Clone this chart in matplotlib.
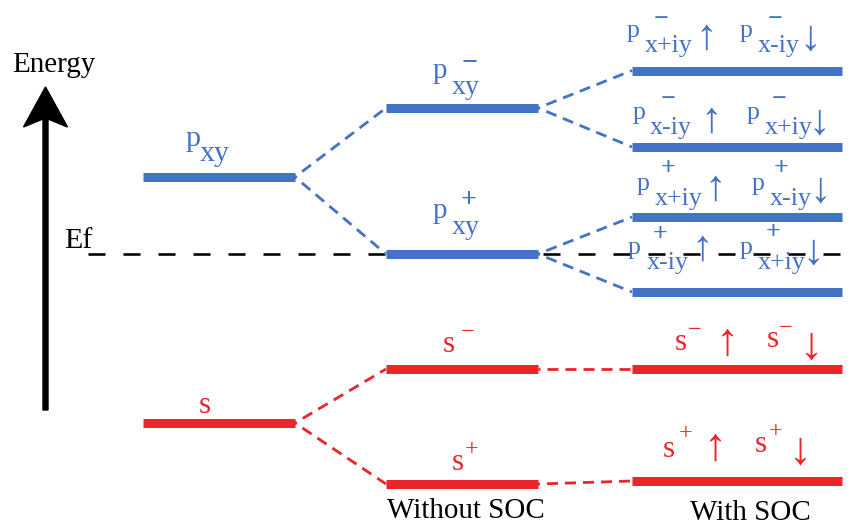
import matplotlib
matplotlib.use("Agg")
import matplotlib.pyplot as plt

plt.rcParams['lines.scale_dashes'] = False
FAM = ['Liberation Serif', 'DejaVu Serif']
BLUE = '#4472C4'
RED = '#E8262B'
H = 527  # figure height in px; energy axis uses px-like units (upward)

# ---------------- data ----------------
# energies (arbitrary units, increasing upward)
iso_states = ['p_xy', 's']
iso_energy = [350, 104]
nosoc_states = ['p_xy-', 'p_xy+', 's-', 's+']
nosoc_energy = [419, 273, 158, 43]
soc_states = ['p_x+iy- up / p_x-iy- dn', 'p_x-iy- up / p_x+iy- dn',
              'p_x+iy+ up / p_x-iy+ dn', 'p_x-iy+ up / p_x+iy+ dn',
              's- up / s- dn', 's+ up / s+ dn']
soc_energy = [456.5, 380, 310, 235, 158, 46]
fermi_energy = 273
iso_colors = [BLUE, RED]
nosoc_colors = [BLUE, BLUE, RED, RED]
soc_colors = [BLUE, BLUE, BLUE, BLUE, RED, RED]
# splitting: iso -> nosoc, nosoc -> soc
link_iso_nosoc = [(0, 0), (0, 1), (1, 2), (1, 3)]
link_nosoc_soc = [(0, 0), (0, 1), (1, 2), (1, 3), (2, 4), (3, 5)]
column_titles = ['Without SOC', 'With SOC']

# ---------------- layout ----------------
col_iso = (143, 295)
col_nosoc = (386, 538)
col_soc = (632, 842)
BAR_LW = 9 * 0.72

fig = plt.figure(figsize=(8.52, 5.27), dpi=100)
ax = fig.add_axes([0, 0, 1, 1])
ax.set_xlim(0, 852)
ax.set_ylim(0, H)
ax.axis('off')

# Fermi level
ax.plot([88, 852], [fermi_energy, fermi_energy], color='black', lw=2.6 * 0.72,
        linestyle=(0, (17 * 0.72, 18 * 0.72)), zorder=1)

# bars
for e, c in zip(iso_energy, iso_colors):
    ax.plot(col_iso, [e, e], color=c, lw=BAR_LW, solid_capstyle='butt', zorder=3)
for e, c in zip(nosoc_energy, nosoc_colors):
    ax.plot(col_nosoc, [e, e], color=c, lw=BAR_LW, solid_capstyle='butt', zorder=3)
for e, c in zip(soc_energy, soc_colors):
    ax.plot(col_soc, [e, e], color=c, lw=BAR_LW, solid_capstyle='butt', zorder=3)

# connectors
dash = (9 * 0.72, (11 * 0.72, 7 * 0.72))
for i, j in link_iso_nosoc:
    ax.plot([col_iso[1], col_nosoc[0]], [iso_energy[i], nosoc_energy[j]],
            color=iso_colors[i], lw=2.8 * 0.72, linestyle=dash, zorder=2)
for i, j in link_nosoc_soc:
    ax.plot([col_nosoc[1], col_soc[0]], [nosoc_energy[i], soc_energy[j]],
            color=nosoc_colors[i], lw=2.8 * 0.72, linestyle=dash, zorder=2)

# energy arrow
ax.arrow(45.5, H - 410, 0, 410 - 87, width=5, head_width=44, head_length=40,
         overhang=0.2, length_includes_head=True, color='black', zorder=4)


def T(x, ypix, s, px, color='black', ha='left', weight='normal'):
    ax.text(x, H - ypix, s, fontsize=px * 0.72, family=FAM, color=color,
            ha=ha, va='baseline', zorder=5, fontweight=weight)


def SIGN(xc, yc, s, px, color, weight='normal'):
    # place a sign so that its ink centre is near (xc, yc) in px
    T(xc, yc + 0.25 * px, s, px, color, ha='center', weight=weight)


def ARROW(xc, ybot, s, px, color):
    # glyph bottom sits slightly below the baseline
    T(xc, ybot - 0.07 * px, s, px, color, ha='center')


T(12, 72, 'Energy', 29)
T(64, 248, 'Ef', 30)
T(387, 518, column_titles[0], 29)
T(690, 520.5, column_titles[1], 29)

# column 1
T(185, 146, 'p', 30, BLUE)
T(200, 161, 'xy', 30, BLUE)
T(199, 413, 's', 31, RED)

# column 2
T(433, 78.5, 'p', 29, BLUE)
T(452, 94.5, 'xy', 28, BLUE)
SIGN(470, 62, '\u2212', 28, BLUE, 'bold')
T(433, 218, 'p', 29, BLUE)
T(452, 234.5, 'xy', 28, BLUE)
SIGN(469, 200, '+', 28, BLUE, 'bold')
T(443, 352, 's', 31, RED)
SIGN(467.5, 332, '\u2212', 24, RED)
T(452, 470, 's', 31, RED)
SIGN(471, 449.5, '+', 24, RED)

# column 3 (blue)
P = 26
rows = [
    (627, 36.6, 'x+iy', 645, '\u2212', 661.5, 20, 706, 740, 'x-iy', 758, 775, 20, 810, 51.6, 52, 53),
    (633, 118.6, 'x-iy', 650, '\u2212', 668.5, 100, 711, 747, 'x+iy', 765, 779, 100, 819, 133.6, 135, 137),
    (637, 189.6, 'x+iy', 655, '+', 668.5, 168.5, 715, 752, 'x-iy', 770, 781.5, 168, 820, 204.6, 203, 205),
    (628, 253.6, 'x-iy', 647, '+', 660, 235, 702, 740, 'x+iy', 758, 773.5, 233, 813, 268.6, 263, 267),
]
for (p1x, base, sub1, sub1x, sg, s1x, s1y, upx, p2x, sub2, sub2x, s2x, s2y, dnx,
     subb, aub, adb) in rows:
    T(p1x, base, 'p', P, BLUE)
    T(sub1x, subb, sub1, P, BLUE)
    SIGN(s1x, s1y, sg, P, BLUE, 'bold')
    ARROW(upx, aub, '\u2191', 43, BLUE)
    T(p2x, base, 'p', P, BLUE)
    T(sub2x, subb, sub2, P, BLUE)
    SIGN(s2x, s2y, sg, P, BLUE, 'bold')
    ARROW(dnx, adb, '\u2193', 43, BLUE)

# column 3 (red)
T(675, 350, 's', 31, RED)
SIGN(695, 330, '\u2212', 24, RED)
ARROW(727, 358, '\u2191', 46, RED)
T(767, 347, 's', 31, RED)
SIGN(785.5, 328, '\u2212', 24, RED)
ARROW(811, 362, '\u2193', 46, RED)
T(663, 457, 's', 31, RED)
SIGN(685, 433.5, '+', 24, RED)
ARROW(715, 463, '\u2191', 46, RED)
T(755, 452, 's', 31, RED)
SIGN(775, 431.5, '+', 24, RED)
ARROW(800, 467, '\u2193', 46, RED)

fig.savefig('out.png', dpi=100)
